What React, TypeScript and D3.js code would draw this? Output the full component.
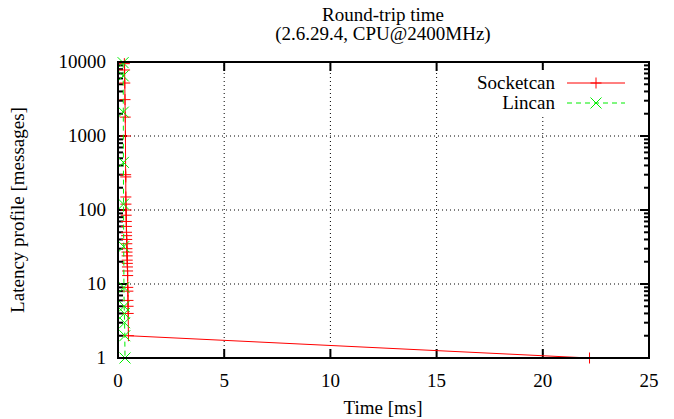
import React from "react";
import * as d3 from "d3";

// Socketcan: latency [ms] vs. message count
const socketcanTime = [
  0.3, 0.31, 0.32, 0.33, 0.34, 0.35, 0.36, 0.365, 0.37, 0.375, 0.38, 0.385,
  0.39, 0.395, 0.4, 0.405, 0.41, 0.415, 0.42, 0.425, 0.43, 0.435, 0.44, 0.445,
  0.45, 0.455, 0.46, 0.465, 0.47, 0.475, 0.48, 0.49, 22.2,
];
const socketcanCount = [
  9500, 7800, 5200, 3100, 1800, 1000, 300, 280, 150, 120, 100, 85, 70, 60, 50,
  45, 40, 35, 30, 27, 24, 21, 19, 17, 15, 13, 9, 8, 6, 5, 4, 2, 1,
];

// Lincan
const lincanTime = [
  0.24, 0.245, 0.25, 0.255, 0.26, 0.27, 0.28, 0.29, 0.3, 0.31, 0.32, 0.33,
];
const lincanCount = [9800, 6500, 2100, 440, 120, 32, 9, 5, 4, 3, 2, 1];

const xTicks = [0, 5, 10, 15, 20, 25];
const yTicks = [1, 10, 100, 1000, 10000];

const W = 674;
const H = 419;
const margin = { top: 62, right: 25, bottom: 61, left: 118 };
const RED = "#ff0000";
const GREEN = "#00ee00";

export default function App() {
  const x = d3.scaleLinear().domain([0, 25]).range([margin.left, W - margin.right]);
  const y = d3.scaleLog().domain([1, 10000]).range([H - margin.bottom, margin.top]);
  const [x0, x1] = x.range();
  const [yb, yt] = y.range();

  const minorY: number[] = [];
  for (let d = 1; d < 10000; d *= 10) {
    for (let k = 2; k <= 9; k++) minorY.push(d * k);
  }

  const sock = socketcanTime.map((t, i) => [t, socketcanCount[i]] as [number, number]);
  const linc = lincanTime.map((t, i) => [t, lincanCount[i]] as [number, number]);
  const line = d3
    .line<[number, number]>()
    .x((d) => x(d[0]))
    .y((d) => y(d[1]));

  const plus = (cx: number, cy: number, key: string | number) => (
    <path key={key} d={`M${cx - 5.5},${cy}H${cx + 5.5}M${cx},${cy - 5.5}V${cy + 5.5}`} stroke={RED} strokeWidth={1} />
  );
  const cross = (cx: number, cy: number, key: string | number) => (
    <path key={key} d={`M${cx - 5.5},${cy - 5.5}L${cx + 5.5},${cy + 5.5}M${cx - 5.5},${cy + 5.5}L${cx + 5.5},${cy - 5.5}`} stroke={GREEN} strokeWidth={1} />
  );

  const legX0 = 567;
  const legX1 = 625;
  const legY1 = 83;
  const legY2 = 103;

  return (
    <div>
      <style>{`svg text { font-family: "Liberation Serif"; font-size: 19px; }`}</style>
      <svg width={W} height={H} style={{ position: "absolute", left: 0, top: 0, background: "#fff" }}>
        <rect width={W} height={H} fill="#fff" />
        {/* grid */}
        {xTicks.slice(1, -1).map((t) => (
          <line key={`gx${t}`} x1={x(t)} x2={x(t)} y1={yb} y2={yt} stroke="#000" strokeWidth={1} strokeDasharray="1,3" />
        ))}
        {yTicks.slice(1, -1).map((t) => (
          <line key={`gy${t}`} x1={x0} x2={x1} y1={y(t)} y2={y(t)} stroke="#000" strokeWidth={1} strokeDasharray="1,3" />
        ))}
        {/* ticks */}
        {xTicks.map((t) => (
          <g key={`tx${t}`}>
            <line x1={x(t)} x2={x(t)} y1={yb} y2={yb - 9} stroke="#000" strokeWidth={2} />
            <line x1={x(t)} x2={x(t)} y1={yt} y2={yt + 9} stroke="#000" strokeWidth={2} />
            <text x={x(t)} y={yb + 29} textAnchor="middle">{t}</text>
          </g>
        ))}
        {yTicks.map((t) => (
          <g key={`ty${t}`}>
            <line x1={x0} x2={x0 + 9} y1={y(t)} y2={y(t)} stroke="#000" strokeWidth={2} />
            <line x1={x1} x2={x1 - 9} y1={y(t)} y2={y(t)} stroke="#000" strokeWidth={2} />
            <text x={x0 - 12} y={y(t) + 6} textAnchor="end">{t}</text>
          </g>
        ))}
        {minorY.map((t) => (
          <g key={`my${t}`}>
            <line x1={x0} x2={x0 + 5} y1={y(t)} y2={y(t)} stroke="#000" strokeWidth={2} />
            <line x1={x1} x2={x1 - 5} y1={y(t)} y2={y(t)} stroke="#000" strokeWidth={2} />
          </g>
        ))}
        {/* legend (opaque key) */}
        <rect x={465} y={70} width={170} height={45} fill="#fff" />
        <text x={555} y={legY1 + 6} textAnchor="end">Socketcan</text>
        <text x={555} y={legY2 + 6} textAnchor="end">Lincan</text>
        <line x1={legX0} x2={legX1} y1={legY1} y2={legY1} stroke={RED} strokeWidth={1} />
        {plus((legX0 + legX1) / 2, legY1, "lp")}
        <line x1={legX0} x2={legX1} y1={legY2} y2={legY2} stroke={GREEN} strokeWidth={1} strokeDasharray="5,4" />
        {cross((legX0 + legX1) / 2, legY2, "lc")}
        {/* series */}
        <path d={line(sock) ?? ""} fill="none" stroke={RED} strokeWidth={1} />
        {sock.map((d, i) => plus(x(d[0]), y(d[1]), `s${i}`))}
        <path d={line(linc) ?? ""} fill="none" stroke={GREEN} strokeWidth={1} strokeDasharray="5,4" />
        {linc.map((d, i) => cross(x(d[0]), y(d[1]), `l${i}`))}
        {/* border */}
        <rect x={x0} y={yt} width={x1 - x0} height={yb - yt} fill="none" stroke="#000" strokeWidth={2} />
        {/* titles */}
        <text x={383} y={21} textAnchor="middle">Round-trip time</text>
        <text x={383} y={40} textAnchor="middle">(2.6.29.4, CPU@2400MHz)</text>
        <text x={383} y={414} textAnchor="middle">Time [ms]</text>
        <text transform={`translate(24,${(yb + yt) / 2}) rotate(-90)`} textAnchor="middle">
          Latency profile [messages]
        </text>
      </svg>
    </div>
  );
}
